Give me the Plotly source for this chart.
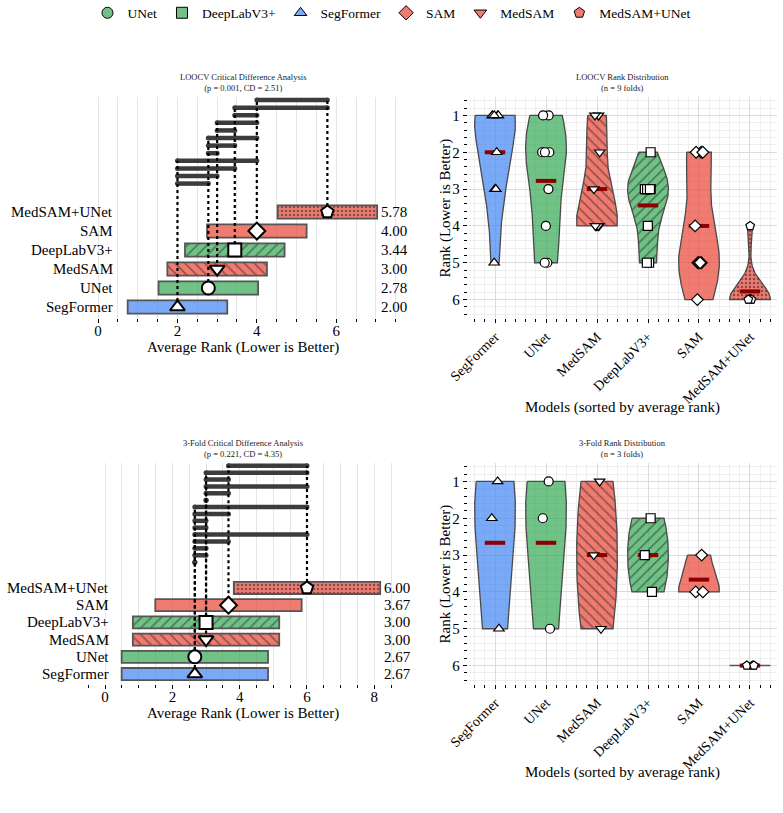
import numpy as np
import plotly.graph_objects as go

# ------------------------------------------------------------------ data
model_names = ["SegFormer", "UNet", "MedSAM", "DeepLabV3+", "SAM", "MedSAM+UNet"]
legend_models = ["UNet", "DeepLabV3+", "SegFormer", "SAM", "MedSAM", "MedSAM+UNet"]

# per-fold ranks (same order as model_names)
loocv_ranks = [
    [1, 1, 1, 1, 1, 2, 3, 3, 5],   # SegFormer
    [1, 1, 2, 2, 2, 3, 4, 5, 5],   # UNet
    [1, 1, 2, 3, 4, 4, 4, 4, 4],   # MedSAM
    [2, 3, 3, 3, 3, 3, 4, 5, 5],   # DeepLabV3+
    [2, 2, 2, 4, 5, 5, 5, 5, 6],   # SAM
    [4, 6, 6, 6, 6, 6, 6, 6, 6],   # MedSAM+UNet
]
threefold_ranks = [
    [1, 2, 5],
    [1, 2, 5],
    [1, 3, 5],
    [2, 3, 4],
    [3, 4, 4],
    [6, 6, 6],
]
loocv_p, loocv_cd = 0.001, 2.51
threefold_p, threefold_cd = 0.221, 4.35

# ------------------------------------------------------------------ style
BLUE = "rgba(66,133,244,0.7)"
GREEN = "rgba(52,168,83,0.7)"
RED = "rgba(234,67,53,0.7)"
STYLE = {
    "UNet": dict(color=GREEN, hatch="", symbol="circle"),
    "DeepLabV3+": dict(color=GREEN, hatch="/", symbol="square"),
    "SegFormer": dict(color=BLUE, hatch="", symbol="triangle-up"),
    "SAM": dict(color=RED, hatch="", symbol="diamond"),
    "MedSAM": dict(color=RED, hatch="\\", symbol="triangle-down"),
    "MedSAM+UNet": dict(color=RED, hatch=".", symbol="pentagon"),
}
FONT = "Liberation Serif, Times New Roman, DejaVu Serif, serif"
W, H = 783, 813


def fx(p):
    return p / W


def fy(p):
    return 1 - p / H


def fnt(size, color="black"):
    return dict(family=FONT, size=size, color=color)


fig = go.Figure()
annotations = []


def pat(hatch, color):
    if hatch == ".":
        return dict(shape=".", fgcolor="#1e1e1e", bgcolor=color, size=4, solidity=0.3)
    return dict(shape=hatch, fgcolor="#1e1e1e", bgcolor=color, size=7, solidity=0.22)


def cd_panel(ranks, cd, xa, ya):
    n = len(ranks)
    means = [float(np.mean(r)) for r in ranks]
    order = sorted(range(n), key=lambda i: means[i])
    names = [model_names[i] for i in order]
    mvals = [means[i] for i in order]
    ypos = list(range(n))
    bases = [m - cd / 2 for m in mvals]

    for k, nm in enumerate(names):
        st = STYLE[nm]
        mk = dict(color=st["color"], line=dict(color="#555555", width=1.8))
        if st["hatch"]:
            mk["pattern"] = pat(st["hatch"], st["color"])
        fig.add_trace(go.Bar(
            orientation="h", y=[ypos[k]], x=[cd], base=[bases[k]], width=0.7,
            marker=mk, xaxis=xa, yaxis=ya, showlegend=False, hoverinfo="skip"))

    pairs = [(a, b) for a in range(n) for b in range(a + 1, n)
             if abs(mvals[a] - mvals[b]) < cd]
    line_y = [6.5 + 0.4 * k for k in range(len(pairs))]
    lx, ly = [], []
    for (a, b), yy in zip(pairs, line_y):
        lx += [mvals[a], mvals[b], None]
        ly += [yy, yy, None]
    fig.add_trace(go.Scatter(x=lx, y=ly, mode="lines+markers",
                             line=dict(color="#3c3c3c", width=4.5),
                             marker=dict(size=5, color="#3c3c3c"),
                             xaxis=xa, yaxis=ya, showlegend=False, hoverinfo="skip"))

    dx, dy = [], []
    for k in range(n):
        tops = [yy for (a, b), yy in zip(pairs, line_y) if k in (a, b)]
        if tops:
            dx += [mvals[k], mvals[k], None]
            dy += [k, max(tops), None]
    fig.add_trace(go.Scatter(x=dx, y=dy, mode="lines",
                             line=dict(color="black", width=2.2, dash="dot"),
                             xaxis=xa, yaxis=ya, showlegend=False, hoverinfo="skip"))

    fig.add_trace(go.Scatter(x=mvals, y=ypos, mode="markers",
                             marker=dict(symbol=[STYLE[nm]["symbol"] for nm in names],
                                         size=13, color="white",
                                         line=dict(color="black", width=2)),
                             xaxis=xa, yaxis=ya, showlegend=False, hoverinfo="skip"))

    lo, hi = min(bases), max(bases) + cd
    for k, (nm, m) in enumerate(zip(names, mvals)):
        annotations.append(dict(x=lo - 0.4, y=k, xref=xa, yref=ya, text=nm,
                                xanchor="right", yanchor="middle", showarrow=False,
                                xshift=3, font=fnt(15)))
        annotations.append(dict(x=hi + 0.05, y=k, xref=xa, yref=ya, text=f"{m:.2f}",
                                xanchor="left", yanchor="middle", showarrow=False,
                                font=fnt(15)))
    xr = [lo - 1.0, hi + 0.5]
    yr = [-0.58, line_y[-1] + 0.16]
    return xr, yr


def violin_panel(ranks, xa, ya):
    n = len(ranks)
    means = [float(np.mean(r)) for r in ranks]
    order = sorted(range(n), key=lambda i: means[i])
    names = [model_names[i] for i in order]
    for pos, i in enumerate(order):
        vals = np.asarray(ranks[i], dtype=float)
        st = STYLE[model_names[i]]
        if vals.std() == 0:
            fig.add_trace(go.Scatter(x=[pos - 0.4, pos + 0.4], y=[vals[0], vals[0]],
                                     mode="lines", line=dict(color="#555555", width=1.5),
                                     xaxis=xa, yaxis=ya, showlegend=False, hoverinfo="skip"))
        else:
            bw = vals.std(ddof=1) * len(vals) ** (-0.2)
            grid = np.linspace(vals.min(), vals.max(), 100)
            dens = np.exp(-0.5 * ((grid[:, None] - vals[None, :]) / bw) ** 2).sum(axis=1)
            half = dens / dens.max() * 0.4
            xs = np.concatenate([pos - half, (pos + half)[::-1], [pos - half[0]]])
            ys = np.concatenate([grid, grid[::-1], [grid[0]]])
            kw = {}
            if st["hatch"]:
                kw["fillpattern"] = pat(st["hatch"], st["color"])
            fig.add_trace(go.Scatter(x=xs, y=ys, mode="lines", fill="toself",
                                     fillcolor=st["color"],
                                     line=dict(color="#4a4a4a", width=1.3),
                                     xaxis=xa, yaxis=ya, showlegend=False,
                                     hoverinfo="skip", **kw))
        fig.add_trace(go.Scatter(x=[pos - 0.2, pos + 0.2], y=[means[i], means[i]],
                                 mode="lines", line=dict(color="#8b0000", width=4),
                                 xaxis=xa, yaxis=ya, showlegend=False, hoverinfo="skip"))
        fig.add_trace(go.Box(x0=pos, y=vals, boxpoints="all", jitter=0.5, pointpos=0,
                             width=0.4, fillcolor="rgba(0,0,0,0)",
                             line=dict(width=0, color="rgba(0,0,0,0)"),
                             marker=dict(symbol=st["symbol"], size=9, color="white",
                                         line=dict(color="black", width=1.2)),
                             xaxis=xa, yaxis=ya, showlegend=False, hoverinfo="skip",
                             zorder=10))
    return names


# legend entries
for nm in legend_models:
    st = STYLE[nm]
    fig.add_trace(go.Scatter(x=[None], y=[None], mode="markers", name=nm,
                             marker=dict(symbol=st["symbol"], size=11, color=st["color"],
                                         line=dict(color="black", width=1)),
                             xaxis="x", yaxis="y"))

xr1, yr1 = cd_panel(loocv_ranks, loocv_cd, "x", "y")
names2 = violin_panel(loocv_ranks, "x2", "y2")
xr3, yr3 = cd_panel(threefold_ranks, threefold_cd, "x3", "y3")
names4 = violin_panel(threefold_ranks, "x4", "y4")

LEFT = [fx(88), fx(397)]
RIGHT = [fx(468), fx(777)]
TOP = [fy(318), fy(97)]
BOT = [fy(684), fy(463)]


def cd_xaxis(dom, anchor, rng):
    return dict(domain=dom, anchor=anchor, range=rng, type="linear", automargin=False,
                tickmode="linear", tick0=0, dtick=2, ticks="outside", ticklen=4,
                tickwidth=1.2, tickcolor="black", showline=True, linecolor="black",
                linewidth=1.3, showgrid=True, gridcolor="#e6e6e6", gridwidth=1,
                zeroline=False, tickfont=fnt(15), ticklabelstandoff=-5,
                minor=dict(tickmode="linear", tick0=0, dtick=0.5, ticks="outside",
                           ticklen=2.5, tickcolor="black", tickwidth=1,
                           showgrid=True, gridcolor="#e6e6e6", gridwidth=1))


def cd_yaxis(dom, anchor, rng):
    return dict(domain=dom, anchor=anchor, range=rng, visible=False, automargin=False,
                showgrid=False, zeroline=False)


def v_xaxis(dom, anchor, names):
    return dict(domain=dom, anchor=anchor, range=[-0.53, 5.53], type="linear",
                automargin=False,
                tickmode="array", tickvals=list(range(len(names))), ticktext=names,
                tickangle=-45, ticks="outside", ticklen=4, tickwidth=1.2,
                tickcolor="black", showline=True, linecolor="black", linewidth=1.3,
                showgrid=True, gridcolor="#dcdcdc", gridwidth=1, zeroline=False,
                tickfont=fnt(14),
                minor=dict(tickmode="linear", tick0=0, dtick=0.2, ticks="outside",
                           ticklen=2.5, tickcolor="black", tickwidth=1,
                           showgrid=True, gridcolor="#eeeeee", gridwidth=1))


def v_yaxis(dom, anchor):
    return dict(domain=dom, anchor=anchor, range=[6.5, 0.5], type="linear",
                automargin=False,
                tickmode="array", tickvals=[1, 2, 3, 4, 5, 6], ticks="outside",
                ticklen=4, tickwidth=1.2, tickcolor="black", showline=True,
                linecolor="black", linewidth=1.3, showgrid=True, gridcolor="#dcdcdc",
                gridwidth=1, zeroline=False, tickfont=fnt(15),
                minor=dict(tickmode="linear", tick0=0, dtick=0.2, ticks="outside",
                           ticklen=2.5, tickcolor="black", tickwidth=1,
                           showgrid=True, gridcolor="#eeeeee", gridwidth=1))


def text_ann(x, y, text, font, **kw):
    d = dict(x=x, y=y, xref="paper", yref="paper", text=text, showarrow=False,
             xanchor="center", yanchor="middle", font=font)
    d.update(kw)
    annotations.append(d)


# panel titles
tf = fnt(8.5, "#222")
text_ann(fx(242.5), fy(82.5),
         f"LOOCV Critical Difference Analysis<br>(p = {loocv_p:.3f}, CD = {loocv_cd:.2f})", tf)
text_ann(fx(622.5), fy(82.5),
         f"LOOCV Rank Distribution<br>(n = {len(loocv_ranks[0])} folds)", tf)
text_ann(fx(242.5), fy(449),
         f"3-Fold Critical Difference Analysis<br>(p = {threefold_p:.3f}, CD = {threefold_cd:.2f})", tf)
text_ann(fx(622.5), fy(449),
         f"3-Fold Rank Distribution<br>(n = {len(threefold_ranks[0])} folds)", tf)

# axis titles
text_ann(fx(242.5), fy(347), "Average Rank (Lower is Better)", fnt(15))
text_ann(fx(242.5), fy(713.5), "Average Rank (Lower is Better)", fnt(15))
text_ann(fx(622.5), fy(407), "Models (sorted by average rank)", fnt(15))
text_ann(fx(622.5), fy(772), "Models (sorted by average rank)", fnt(15))
text_ann(fx(445), fy(207.5), "Rank (Lower is Better)", fnt(15), textangle=-90)
text_ann(fx(445), fy(573.5), "Rank (Lower is Better)", fnt(15), textangle=-90)

fig.update_layout(
    width=W, height=H, margin=dict(l=0, r=0, t=0, b=0, autoexpand=False),
    paper_bgcolor="white", plot_bgcolor="white",
    font=fnt(15),
    boxmode="overlay", barmode="overlay",
    xaxis=cd_xaxis(LEFT, "y", xr1), yaxis=cd_yaxis(TOP, "x", yr1),
    xaxis2=v_xaxis(RIGHT, "y2", names2), yaxis2=v_yaxis(TOP, "x2"),
    xaxis3=cd_xaxis(LEFT, "y3", xr3), yaxis3=cd_yaxis(BOT, "x3", yr3),
    xaxis4=v_xaxis(RIGHT, "y4", names4), yaxis4=v_yaxis(BOT, "x4"),
    legend=dict(orientation="h", x=0.5, xanchor="center", y=fy(13), yanchor="middle",
                font=fnt(13.5), bgcolor="rgba(0,0,0,0)"),
    annotations=annotations,
    showlegend=True,
)

fig.write_html("out.html")
